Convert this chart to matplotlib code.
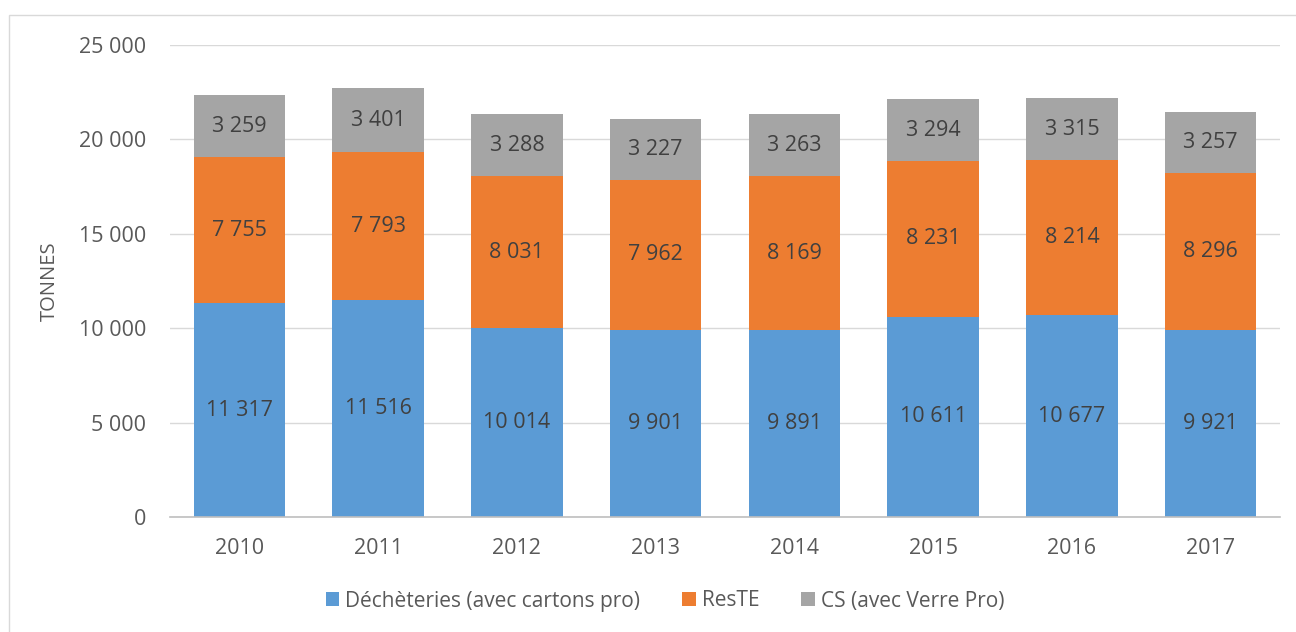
import matplotlib.pyplot as plt
import numpy as np
from matplotlib.patches import Rectangle

plt.rcParams['font.family'] = ['Open Sans', 'DejaVu Sans']

years = ['2010', '2011', '2012', '2013', '2014', '2015', '2016', '2017']
decheteries = [11317, 11516, 10014, 9901, 9891, 10611, 10677, 9921]
reste = [7755, 7793, 8031, 7962, 8169, 8231, 8214, 8296]
cs = [3259, 3401, 3288, 3227, 3263, 3294, 3315, 3257]

series = [
    ('Déchèteries (avec cartons pro)', decheteries, '#5B9BD5'),
    ('ResTE', reste, '#ED7D31'),
    ('CS (avec Verre Pro)', cs, '#A5A5A5'),
]

text_color = '#595959'

def fmt(v):
    return f'{v:,.0f}'.replace(',', ' ')

fig = plt.figure(figsize=(12.96, 6.32), dpi=100)
ax = fig.add_axes([170 / 1296, 115 / 632, 1110 / 1296, 472 / 632])

# outer chart frame (Excel style)
fig.patches.append(Rectangle((9 / 1296, -0.1), 1.2, 1 - 15 / 632 + 0.1,
                             transform=fig.transFigure, fill=False,
                             edgecolor='#D9D9D9', linewidth=1))

x = np.arange(len(years))
bottom = np.zeros(len(years))
for name, vals, color in series:
    vals = np.array(vals)
    ax.bar(x, vals, 0.66, bottom=bottom, color=color, label=name, zorder=2)
    for xi, b, v in zip(x, bottom, vals):
        ax.text(xi, b + v / 2, fmt(v), ha='center', va='center',
                fontsize=15.5, color='#404040', zorder=3)
    bottom += vals

ax.set_xlim(-0.5, len(years) - 0.5)
ax.set_ylim(0, 25000)
ax.set_yticks(range(0, 25001, 5000))
ax.set_yticklabels([fmt(v) for v in range(0, 25001, 5000)])
ax.set_xticks(x)
ax.set_xticklabels(years)
ax.tick_params(axis='both', length=0, labelsize=15.5, labelcolor=text_color)
ax.tick_params(axis='y', pad=17)
ax.tick_params(axis='x', pad=15)
ax.yaxis.grid(True, color='#D9D9D9', linewidth=1, zorder=0)
for s in ['top', 'right', 'left']:
    ax.spines[s].set_visible(False)
ax.spines['bottom'].set_color('#BFBFBF')
ax.spines['bottom'].set_linewidth(1.2)
ax.set_ylabel('TONNES', fontsize=14.5, color=text_color, labelpad=14)

ax.legend(loc='center', bbox_to_anchor=(665 / 1296, 1 - 601 / 632),
          bbox_transform=fig.transFigure, ncol=3, frameon=False,
          fontsize=15, labelcolor=text_color, handlelength=0.65,
          handleheight=0.65, handletextpad=0.3, columnspacing=2.0)

fig.savefig('out.png', dpi=100)
